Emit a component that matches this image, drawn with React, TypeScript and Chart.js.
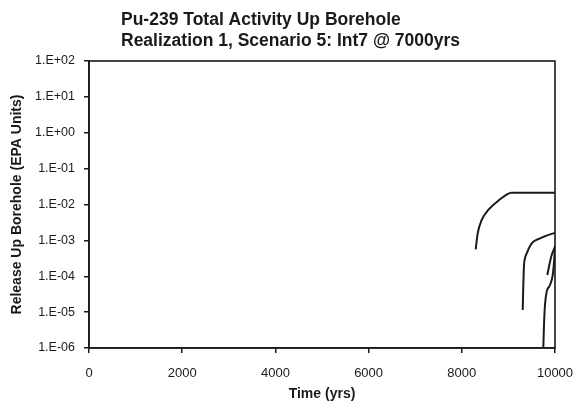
import React, { useEffect, useRef } from "react";
import { Chart, registerables } from "chart.js";

Chart.register(...registerables);

const titleLines = [
  "Pu-239 Total Activity Up Borehole",
  "Realization 1, Scenario 5: Int7 @ 7000yrs",
];
const xAxisTitle = "Time (yrs)";
const yAxisTitle = "Release Up Borehole (EPA Units)";

const xMin = 0;
const xMax = 10000;
const xStep = 2000;
const yTickExponents = [2, 1, 0, -1, -2, -3, -4, -5, -6];

// Curve 1
const c1Time = [8298, 8341, 8427, 8569, 8783, 9071, 10000];
const c1Value = [5.64e-4, 1.57e-3, 3.7e-3, 7.03e-3, 1.277e-2, 2.133e-2, 2.133e-2];
// Curve 2
const c2Time = [9307, 9320, 9335, 9356, 9393, 9500, 9678, 9964, 10000];
const c2Value = [1.15e-5, 5.7e-5, 2.06e-4, 3.16e-4, 4.37e-4, 8.28e-4, 1.14e-3, 1.57e-3, 1.6e-3];
// Curve 3
const c3Time = [9835, 9878, 9929, 9985, 10000];
const c3Value = [1.08e-4, 2.06e-4, 3.91e-4, 6.0e-4, 6.5e-4];
// Curve 4
const c4Time = [9749, 9764, 9785, 9822, 9893, 9951, 9985, 10000];
const c4Value = [1e-6, 4.38e-6, 1.58e-5, 3.72e-5, 5.69e-5, 1.08e-4, 3.16e-4, 7.43e-4];

const curves = [
  [c1Time, c1Value],
  [c2Time, c2Value],
  [c3Time, c3Value],
  [c4Time, c4Value],
];

const FONT = "'Liberation Sans', Arial, sans-serif";
const INK = "#1a1a1a";

function fmtExp(e: number) {
  const sign = e < 0 ? "-" : "+";
  const a = Math.abs(e);
  return "1.E" + sign + (a < 10 ? "0" + a : String(a));
}

const frameAndTitle = {
  id: "frameAndTitle",
  afterDraw(chart: any) {
    const { ctx, chartArea } = chart;
    ctx.save();
    ctx.strokeStyle = INK;
    ctx.lineWidth = 1.6;
    ctx.strokeRect(chartArea.left, chartArea.top, chartArea.right - chartArea.left, chartArea.bottom - chartArea.top);
    ctx.fillStyle = INK;
    ctx.font = "bold 17.5px " + FONT;
    ctx.textAlign = "left";
    ctx.textBaseline = "alphabetic";
    ctx.fillText(titleLines[0], 121, 25);
    ctx.fillText(titleLines[1], 121, 46);
    ctx.restore();
  },
};

export default function App() {
  const ref = useRef<HTMLCanvasElement | null>(null);
  useEffect(() => {
    if (!ref.current) return;
    const datasets = curves.map(([t, v]) => ({
      data: t.map((x, i) => ({ x, y: v[i] })),
      borderColor: INK,
      borderWidth: 2,
      pointRadius: 0,
      showLine: true,
      fill: false,
      cubicInterpolationMode: "monotone" as const,
    }));
    const chart = new Chart(ref.current, {
      type: "scatter",
      data: { datasets },
      plugins: [frameAndTitle],
      options: {
        animation: false,
        responsive: false,
        maintainAspectRatio: false,
        layout: { padding: { left: 0, right: 20, top: 61, bottom: 0 } },
        plugins: {
          legend: { display: false },
          tooltip: { enabled: false },
          title: { display: false },
        },
        scales: {
          x: {
            type: "linear",
            min: xMin,
            max: xMax,
            ticks: {
              stepSize: xStep,
              color: INK,
              font: { family: FONT, size: 13 },
              padding: 13,
              maxRotation: 0,
              callback: (v: any) => String(v),
            },
            grid: { drawOnChartArea: false, drawTicks: true, tickLength: 5, color: INK, lineWidth: 1.5 },
            border: { display: true, color: INK, width: 1.6 },
            title: {
              display: true,
              text: xAxisTitle,
              color: INK,
              font: { family: FONT, size: 14, weight: "bold" },
              padding: { top: 0, bottom: 5 },
            },
            afterFit: (s: any) => {
              s.height = 60;
              s.paddingLeft = 0;
              s.paddingRight = 0;
            },
          },
          y: {
            type: "logarithmic",
            min: 1e-6,
            max: 1e2,
            afterBuildTicks: (s: any) => {
              s.ticks = yTickExponents.map((e) => ({ value: Math.pow(10, e) }));
            },
            ticks: {
              color: INK,
              font: { family: FONT, size: 12.5 },
              padding: 9,
              autoSkip: false,
              callback: (v: any) => fmtExp(Math.round(Math.log10(v))),
            },
            grid: { drawOnChartArea: false, drawTicks: true, tickLength: 5, color: INK, lineWidth: 1.5 },
            border: { display: true, color: INK, width: 1.6 },
            title: {
              display: true,
              text: yAxisTitle,
              color: INK,
              font: { family: FONT, size: 14, weight: "bold" },
              padding: { top: 9, bottom: 0 },
            },
            afterFit: (s: any) => {
              s.width = 89;
              s.paddingTop = 0;
              s.paddingBottom = 0;
            },
          },
        },
      },
    });
    return () => chart.destroy();
  }, []);
  return (
    <div style={{ position: "absolute", left: 0, top: 0, width: 575, height: 408, background: "#fff" }}>
      <canvas ref={ref} width={575} height={408} style={{ width: 575, height: 408 }} />
    </div>
  );
}
